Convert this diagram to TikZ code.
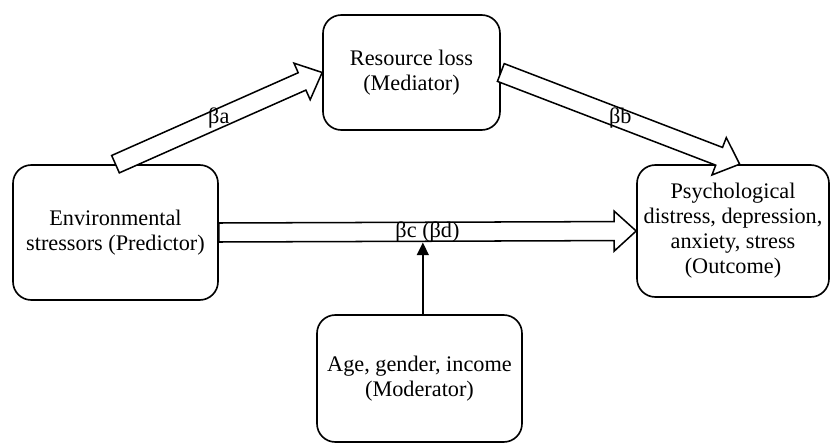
\documentclass[tikz,border=0pt]{standalone}
\usepackage{fontspec}
\setmainfont{Liberation Serif}
\usetikzlibrary{calc, arrows.meta}

\tikzset{
  box/.style = {draw, rounded corners = 0.55cm, line width = 1.4pt, align = center, inner sep = 0pt},
  blockline/.style = {draw, fill = white, line width = 1.3pt, line join = miter},
  beta/.style = {inner sep = 1pt}
}

\newcommand{\blockarrow}[3]{
  \coordinate (#3h) at ($(#2)!0.66cm!(#1)$);
  \draw [blockline] ($(#1)!0.285cm!90:(#2)$) -- ($(#3h)!0.285cm!90:(#2)$) -- ($(#3h)!0.6cm!90:(#2)$)
    -- (#2) -- ($(#3h)!0.6cm!-90:(#2)$) -- ($(#3h)!0.285cm!-90:(#2)$) -- ($(#1)!0.285cm!-90:(#2)$) -- cycle;
}

\begin{document}
\begin{tikzpicture} [x = 0.03cm, y = -0.03cm, >= {Triangle[length = 0.38cm, width = 0.36cm]}, font = \fontsize{19}{21.3}\selectfont]

\useasboundingbox (0,0) rectangle (830,444);

\node [box, minimum width = 6.15cm, minimum height = 4.05cm] (env) at (115.5,232.5) {Environmental\\stressors (Predictor)};
\node [box, minimum width = 5.31cm, minimum height = 3.45cm] (res) at (411.5,72.5) {Resource loss\\(Mediator)};
\node [box, minimum width = 5.76cm, minimum height = 3.96cm] (out) at (733,231) {Psychological\\distress, depression,\\anxiety, stress\\(Outcome)};
\node [box, minimum width = 6.15cm, minimum height = 3.81cm] (mod) at (419.5,378.5) {Age, gender, income\\(Moderator)};

\coordinate (outtop) at ([xshift = 0.2cm]out.north);

\blockarrow{env.north}{res.west}{ba}
\blockarrow{res.east}{outtop}{bb}
\blockarrow{env.east}{out.west}{bc}

\node [beta] (la) at ($(env.north)!0.5!(res.west)$) {βa};
\node [beta] (lb) at ($(res.east)!0.5!(outtop)$) {βb};
\node [beta] (lc) at ($(env.east)!0.5!(out.west)$) {βc (βd)};

\coordinate (shaftlow) at ($(env.east)+(0,10)$);
\draw [->, line width = 1.3pt] ([xshift = 0.1cm]mod.north) -- ([xshift = 0.1cm]mod.north |- shaftlow);

\end{tikzpicture}
\end{document}
